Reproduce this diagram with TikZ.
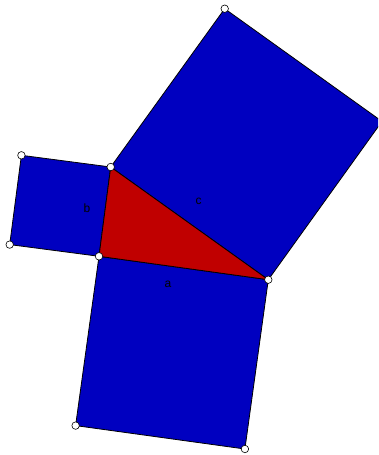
\documentclass[tikz,border=0pt]{standalone}
\usepackage{fontspec}
\setmainfont{Liberation Sans}
\definecolor{sqblue}{RGB}{0,0,192}
\definecolor{trired}{RGB}{192,0,0}
\begin{document}
\begin{tikzpicture}[x=1pt,y=-1pt,
  poly/.style={draw=black,line width=0.8pt,line join=round},
  pt/.style={circle,draw=black,fill=white,line width=0.6pt,inner sep=0pt,minimum size=7.5pt},
  lbl/.style={font=\fontsize{12}{14}\selectfont,inner sep=0pt}]
\useasboundingbox (0,0) rectangle (378,455);
\clip (0,0) rectangle (378,455);
\coordinate (A) at (110.7,167);
\coordinate (C) at (99,256.3);
\coordinate (B) at (268.3,279.7);
\coordinate (c1) at (224.7,8.7);
\coordinate (c2) at (382.0,121.4);
\coordinate (b1) at (9.7,244.6);
\coordinate (b2) at (21.4,155.3);
\coordinate (a1) at (75.6,425.6);
\coordinate (a2) at (244.9,449);
\filldraw[poly,fill=sqblue] (A) -- (B) -- (c2) -- (c1) -- cycle;
\filldraw[poly,fill=sqblue] (A) -- (C) -- (b1) -- (b2) -- cycle;
\filldraw[poly,fill=sqblue] (C) -- (B) -- (a2) -- (a1) -- cycle;
\filldraw[poly,fill=trired] (A) -- (C) -- (B) -- cycle;
\node[lbl] (lb) at (87,208.5) {b};
\node[lbl] (lc) at (198.5,201.5) {c};
\node[lbl] (la) at (168,284.5) {a};
\foreach \p in {A,B,C,c1,b1,b2,a1,a2} \node[pt] (p\p) at (\p) {};
\end{tikzpicture}
\end{document}
